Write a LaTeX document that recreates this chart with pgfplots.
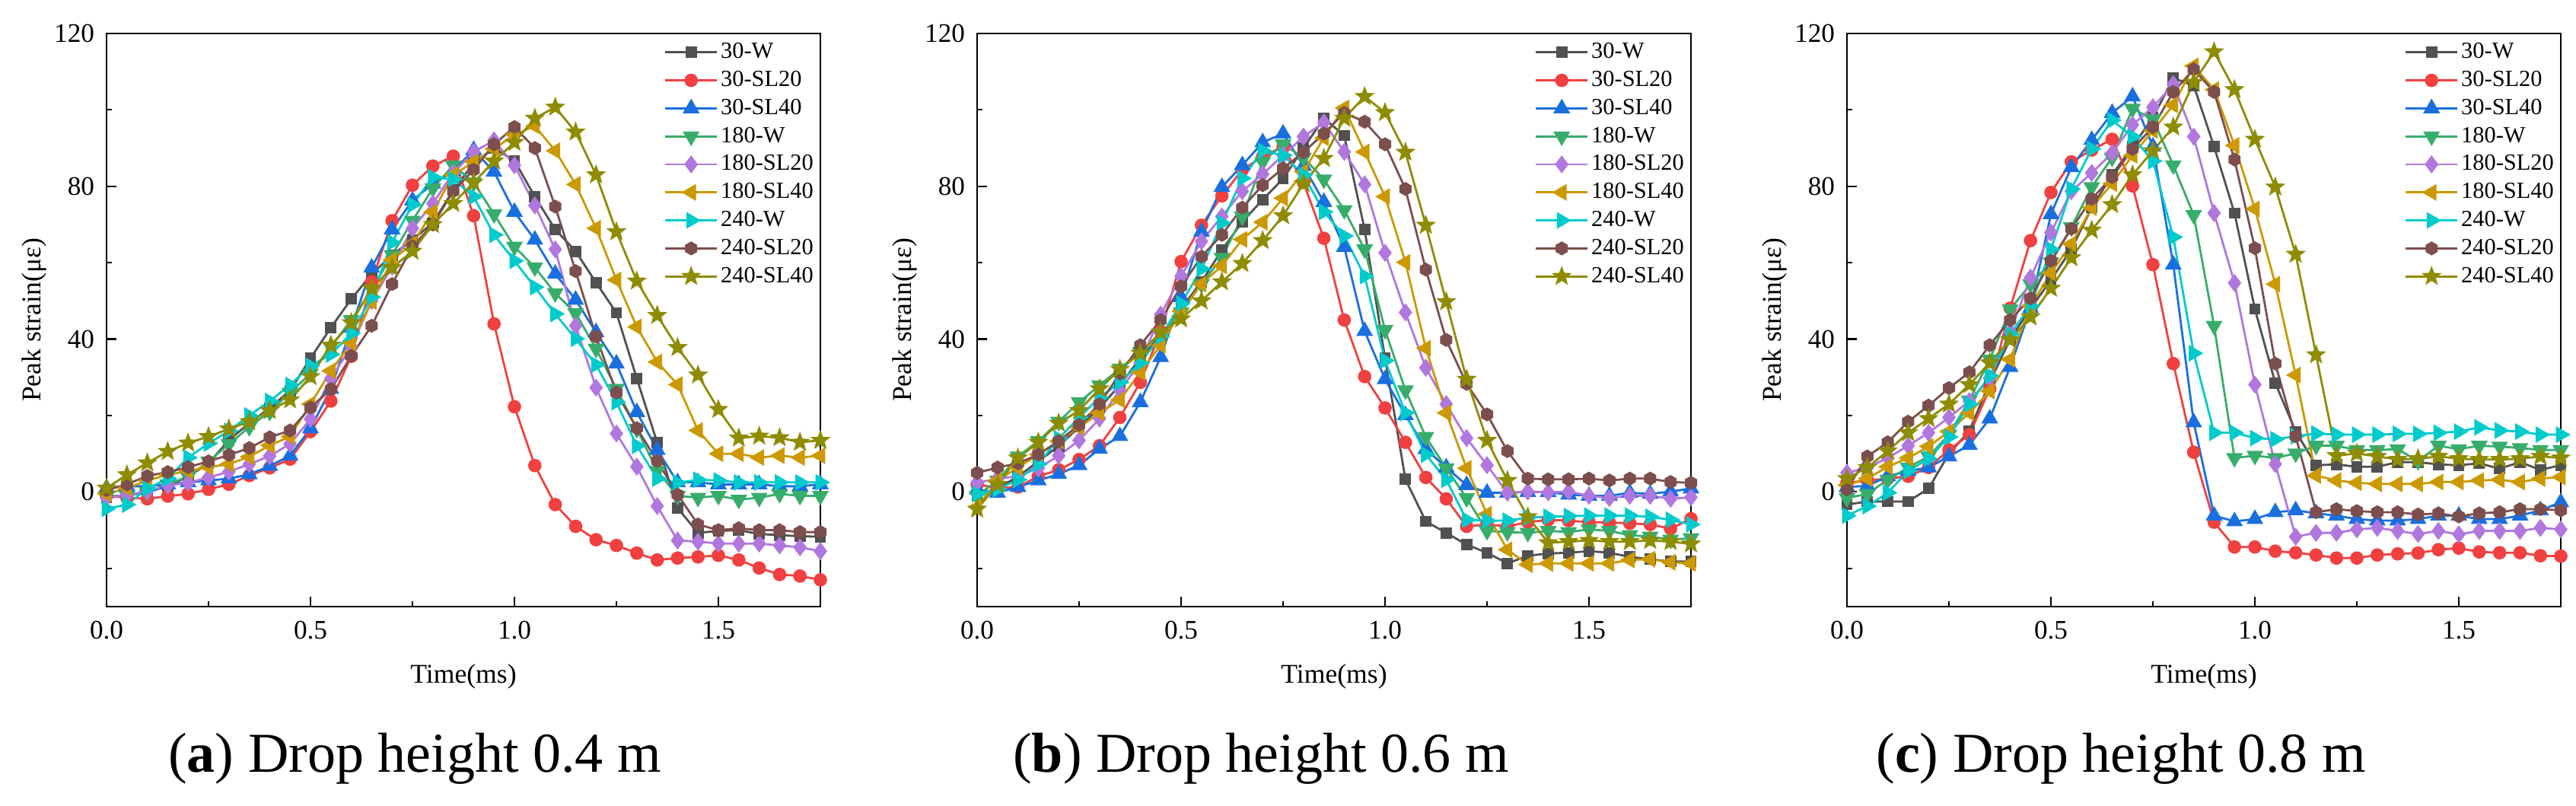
\documentclass[border=0pt]{standalone}
\usepackage{pgfplots}
\pgfplotsset{compat=1.18}
\usepackage{pgfplotstable}
\usepackage{fontspec}
\setmainfont{Liberation Serif}

\definecolor{cW}{HTML}{515151}
\definecolor{cR}{HTML}{F14040}
\definecolor{cB}{HTML}{1A6FDF}
\definecolor{cG}{HTML}{37AD6B}
\definecolor{cP}{HTML}{B177DE}
\definecolor{cO}{HTML}{CC9900}
\definecolor{cC}{HTML}{00CBCC}
\definecolor{cN}{HTML}{7D4E4E}
\definecolor{cS}{HTML}{8E8C00}

\pgfdeclareplotmark{hexagon*}{%
  \pgfpathmoveto{\pgfpointpolar{90}{\pgfplotmarksize}}%
  \pgfpathlineto{\pgfpointpolar{150}{\pgfplotmarksize}}%
  \pgfpathlineto{\pgfpointpolar{210}{\pgfplotmarksize}}%
  \pgfpathlineto{\pgfpointpolar{270}{\pgfplotmarksize}}%
  \pgfpathlineto{\pgfpointpolar{330}{\pgfplotmarksize}}%
  \pgfpathlineto{\pgfpointpolar{30}{\pgfplotmarksize}}%
  \pgfpathclose\pgfusepathqfillstroke}
\pgfdeclareplotmark{star*}{%
  \pgfpathmoveto{\pgfpointpolar{90}{\pgfplotmarksize}}%
  \pgfpathlineto{\pgfpointpolar{126}{0.42\pgfplotmarksize}}%
  \pgfpathlineto{\pgfpointpolar{162}{\pgfplotmarksize}}%
  \pgfpathlineto{\pgfpointpolar{198}{0.42\pgfplotmarksize}}%
  \pgfpathlineto{\pgfpointpolar{234}{\pgfplotmarksize}}%
  \pgfpathlineto{\pgfpointpolar{270}{0.42\pgfplotmarksize}}%
  \pgfpathlineto{\pgfpointpolar{306}{\pgfplotmarksize}}%
  \pgfpathlineto{\pgfpointpolar{342}{0.42\pgfplotmarksize}}%
  \pgfpathlineto{\pgfpointpolar{18}{\pgfplotmarksize}}%
  \pgfpathlineto{\pgfpointpolar{54}{0.42\pgfplotmarksize}}%
  \pgfpathclose\pgfusepathqfillstroke}

\pgfplotstableread{
t W R B G P O C N S
0.00 -1.5 -1 1 -1 -1.5 -0.5 -4.4 0.5 1
0.05 -1 -1.5 1.5 -1 -0.8 1 -3.3 2 4.5
0.10 0 -1.8 1.5 0 0.2 3 0.9 4.2 7.6
0.15 1.5 -1.1 2 2 1.7 4.5 3.5 5.2 10.6
0.20 4 -0.5 2.5 4 2.4 5.5 9 6.5 12.8
0.25 7.5 0.7 3 8 3.8 6.5 12.7 8 14.5
0.30 13.6 2 3.5 12.5 5.3 7.3 16 9.7 16.5
0.35 18 4.3 4.6 17 7.3 9.2 20 11.5 18.4
0.40 22 6.3 6.8 21 9.4 12.2 23.8 14.3 21.3
0.45 26.5 8.6 9.5 26 12.6 14.5 28 16.1 24.1
0.50 35 15.8 16.6 31 19.1 23 33 22.1 30.2
0.55 43 23.8 27 38 29.7 31.7 36 26.9 38.4
0.60 50.5 35.5 43 45 38 39 41.5 35.6 44.3
0.65 57 55 58.7 53 50 49.8 51 43.5 53.3
0.70 62 71 68.7 62 59 60.7 65.3 54.4 58.7
0.75 66 80.3 76.3 71 69 65 75.2 64.3 63
0.80 70.4 85.3 80.7 79.5 75.5 73.3 82.4 70 70
0.85 79 87.9 84 85.5 83.5 83 81.8 78.7 75.5
0.90 86 72.3 89.5 81 89 86.4 77.3 84.3 81
0.95 90 44 83.8 72.7 92 89.8 67.3 91 86.6
1.00 86.7 22.3 73.3 64.2 85.5 93.5 60.5 95.5 91.5
1.05 77.3 6.9 66 58.8 75 95.8 53.6 90 97.8
1.10 68.7 -3.3 57.1 52 63.5 89.3 46.6 74.7 100.7
1.15 63 -9 50.3 46.8 43.5 80.5 40.1 57.8 94.2
1.20 54.8 -12.5 41.8 37.5 27.3 69 33.3 40.7 83
1.25 46.9 -14 33.6 27 15.3 55.5 23.5 26 68.1
1.30 29.7 -16 20.9 16.5 6.6 43.2 12.1 16.7 55.2
1.35 12.9 -17.8 11 5.5 -3.7 34 3.5 8.1 46.2
1.40 -4.2 -17.3 2.5 -1 -12.7 28.1 2.4 -0.7 37.8
1.45 -10.7 -17 2.5 -1.5 -13 16.1 3.2 -8.5 30.6
1.50 -10.2 -16.6 2 -1 -13.5 10 3 -10 21.6
1.55 -10 -17.8 2 -2 -13.5 10 2.5 -9.5 14.1
1.60 -11 -19.9 2 -1.5 -13.5 9 2.5 -10 14.6
1.65 -11.3 -21.6 1.5 -0.5 -14 9.5 2.5 -10 14.2
1.70 -11.6 -22 1.5 -1 -14.5 9 2.5 -10.5 13
1.75 -11.7 -23 2 -1 -15.5 9.5 2.5 -10.5 13.5
}\tA

\pgfplotstableread{
t W R B G P O C N S
0.00 -1 2 0.7 -1 2.4 -3.9 -0.5 5 -4.5
0.05 1 1 -0.2 3 3.5 3 0.7 6.4 2
0.10 4 1.3 1.3 9.3 4.1 6.4 3.2 7.5 8.9
0.15 8 4.1 3 13.3 6.2 9.8 7.3 9.8 13
0.20 12 5.8 4.7 18.4 9.5 13.3 14 13.3 18
0.25 17 8.5 7 23.5 13.5 16.9 19.5 17.6 21.3
0.30 22 12.1 11.3 27.9 19.2 20.7 24.7 23 27
0.35 28 19.5 14.6 32.3 26.6 24.1 28.7 31 32.1
0.40 35 28.7 23.5 36.7 33.8 31.3 33.8 38.4 36.3
0.45 41 42 35.3 41.5 46.4 38.4 40.7 45 41.8
0.50 48 60.3 51 47 56.5 47.3 49.3 53.8 45.3
0.55 55 69.8 68.1 54.4 65.6 54.4 58.4 61.6 50
0.60 63.3 77.5 79.8 61.3 72.1 59.2 70.4 67.3 55
0.65 70.7 84.3 85.5 72.1 78.7 66.1 82.1 74.4 59.8
0.70 76.5 87.8 91.5 86.4 83.2 70.6 89.3 80.3 65.8
0.75 82 90.4 93.8 91 88.1 76.9 88.1 84.7 72.3
0.80 90 81 85.3 87.5 93 83.8 83 88.9 80.7
0.85 97.8 66.4 75.9 81.8 96.7 92.7 73.3 93.8 87.3
0.90 93.3 45 64.1 73.8 89 100.5 67 99.2 97.8
0.95 68.7 30.2 42.1 63.5 80.5 89 56.5 96.9 103.5
1.00 35 22 29.5 42.4 62.6 77.3 34.4 91 99.3
1.05 3.3 13 20.1 26.6 47 60.1 20.7 79.3 88.9
1.10 -7.7 3.8 11.2 14.4 32.5 37.6 9.8 58.2 69.8
1.15 -10.7 -1.8 6.4 6.2 23 20.7 3.2 39.8 49.8
1.20 -13.8 -9 1.8 -1.6 14.1 6.2 -7.3 28.3 29.5
1.25 -15.9 -8.5 -0.2 -10.2 7 -5.8 -7.5 20.3 13.5
1.30 -18.7 -9 -0.2 -10.5 -0.2 -15.1 -7.5 10.7 3
1.35 -16.7 -7.9 0 -10.7 0.1 -19 -6.7 3.5 -6.5
1.40 -16.1 -7.3 0 -10.2 -0.1 -18.7 -6.5 3.3 -13.3
1.45 -15.9 -7.5 -0.7 -10.5 0.1 -18.7 -6.3 3.3 -13
1.50 -15.5 -7.9 -1 -9.8 -1 -18.7 -6.2 3.5 -12.7
1.55 -15.9 -8 -1 -10.2 -1.6 -18.7 -6.2 3 -13
1.60 -17 -8.2 -0.2 -11.3 -1 -17.8 -6.2 3.5 -13
1.65 -17.6 -8.5 -0.5 -11.7 -1 -17.6 -6.5 3.5 -12.7
1.70 -18.2 -9.6 0.1 -12.5 -1.8 -18.4 -7.3 2.6 -13
1.75 -18.2 -7 0.9 -12.1 -1.4 -18.7 -8.5 2.4 -13.6
}\tB

\pgfplotstableread{
t W R B G P O C N S
0.00 -3.3 2.4 1.3 -1.6 5 1.8 -6.2 0.7 3.5
0.05 -2.5 3 1.6 -0.5 6.4 3.5 -3.7 9.3 6.4
0.10 -2.5 3.5 4.1 3.2 8.9 6.6 -0.2 13 10.7
0.15 -2.5 4.1 5.5 6.4 12.1 8.9 5.5 18.4 15.5
0.20 0.9 6.4 6.4 9.3 15.5 11.9 8.7 22.6 19.2
0.25 10 11 9.3 15 19.5 15.8 14.4 27.2 23
0.30 16 15 12.3 24 23.8 20.7 23 31.3 28.1
0.35 28.7 27 19.2 34.7 29.8 26.4 30.4 38.4 33.8
0.40 40 48.1 32.7 47.8 41.8 34.7 41.3 45 39.8
0.45 48 65.8 48.1 54.4 56.1 48.7 48.7 50.7 45.8
0.50 55.5 78.4 72.7 60.1 67.9 57.3 63.5 60.5 53.3
0.55 63.5 86.4 85 69.3 78.7 64.9 79.3 68.9 61.3
0.60 74.4 89.5 92.1 79.8 83.5 74.4 89.8 76.7 68.5
0.65 83 92.3 99.2 87.5 88.7 80.7 97.3 82.4 75.2
0.70 90.4 80.1 103.5 100.3 96.1 88.1 93 89.8 83
0.75 98 59.5 90.4 97.6 100.7 94.6 86.6 95.5 89.3
0.80 108.3 33.6 59.5 85.5 106.7 101.3 66.7 104.7 95.5
0.85 106.4 10.4 18.2 72.5 93 111.5 36.3 110.6 107.2
0.90 90.4 -7.9 -6.2 43.5 73 105.3 15.5 104.7 115.2
0.95 73 -14.4 -7.7 8.9 54.7 90.7 15.5 87 105.3
1.00 47.9 -14.4 -7.1 9.5 28.1 74.1 14.1 63.8 92.3
1.05 28.5 -15.5 -5.3 8.9 7.3 54.4 13.8 33.6 79.8
1.10 15.8 -15.9 -4.8 10.1 -11.7 30.6 14.6 14.6 62.2
1.15 7 -16.5 -5.6 12.1 -10.7 4.3 15.3 -5.3 35.9
1.20 7.2 -17.3 -6.2 12.1 -10.7 3 15 -4.5 9.5
1.25 6.6 -17.3 -7.1 11 -9.8 2.4 15 -5 10.1
1.30 6.6 -16.5 -7.5 11 -9.4 2.1 15 -5.3 9.3
1.35 7.8 -16.2 -7.5 11.2 -10.2 2.1 15.2 -5.3 8.5
1.40 7.8 -16 -7.1 8.1 -11 2.1 15.2 -5.9 8.7
1.45 7.2 -15.1 -6.2 12.1 -10.2 2.6 15.5 -5.6 9.3
1.50 7 -14.7 -6.2 11.2 -11.1 2.6 15.8 -6.4 8.7
1.55 7.5 -15.7 -7.1 12.1 -10.2 3 16.9 -5.6 8.5
1.60 6.1 -15.9 -7.1 11.9 -10.2 3.2 16.1 -5.3 8.5
1.65 7.8 -15.9 -6.2 11.5 -10.2 2.6 15.8 -4.5 8.7
1.70 5.8 -16.7 -4.8 11 -9.4 3.5 15 -4.5 9.3
1.75 7 -16.8 -2.7 11 -9.8 3.9 15 -4.8 8.9
}\tC

\pgfplotsset{
  sW/.style={color=cW, mark=square*, mark size=1.5pt},
  sR/.style={color=cR, mark=*, mark size=1.85pt},
  sB/.style={color=cB, mark=triangle*, mark size=2.5pt},
  sG/.style={color=cG, mark=triangle*, mark size=2.5pt, mark options={rotate=180}},
  sP/.style={color=cP, mark=diamond*, mark size=2.4pt},
  sO/.style={color=cO, mark=triangle*, mark size=2.5pt, mark options={rotate=90}},
  sC/.style={color=cC, mark=triangle*, mark size=2.5pt, mark options={rotate=-90}},
  sN/.style={color=cN, mark=hexagon*, mark size=1.9pt},
  sS/.style={color=cS, mark=star*, mark size=2.5pt},
  panel/.style={
    scale only axis, width=234.5pt, height=188.25pt,
    xmin=0, xmax=1.75, ymin=-30, ymax=120,
    xtick={0,0.5,1,1.5}, xticklabels={0.0,0.5,1.0,1.5},
    minor xtick={0.25,0.75,1.25},
    ytick={0,40,80,120}, yticklabels={0,40,80,120},
    minor ytick={-20,20,60,100},
    tick align=inside, tick pos=left,
    major tick length=3.3pt, minor tick length=1.8pt,
    tick style={black, line width=0.55pt},
    axis line style={line width=0.55pt},
    tick label style={font=\fontsize{8.8}{10}\selectfont},
    yticklabel style={anchor=east, inner sep=0pt, xshift=-3.8pt},
    xticklabel style={anchor=north, inner sep=0pt, yshift=-4.5pt},
    label style={font=\fontsize{8.9}{10}\selectfont},
    xlabel={Time(ms)}, ylabel={Peak strain(με)},
    xlabel style={at={(axis description cs:0.5,-0.134)}, anchor=base},
    ylabel style={at={(axis description cs:-0.1013,0.5)}, anchor=center},
    every axis plot/.append style={line width=0.7pt},
    legend image code/.code={\draw[mark repeat=2,mark phase=2] plot coordinates {(0pt,0pt)(8.5pt,0pt)(17pt,0pt)};},
    legend cell align=left,
    legend style={draw=none, fill=none, at={(rel axis cs:1,1)}, anchor=north east,
      xshift=-1.2pt, yshift=-1.4pt, inner sep=0pt,
      font=\fontsize{7.6}{8}\selectfont, row sep=0pt,
      nodes={inner xsep=0.9pt, inner ysep=0pt, text height=6.6pt, text depth=2.6pt}},
    legend entries={30-W,30-SL20,30-SL40,180-W,180-SL20,180-SL40,240-W,240-SL20,240-SL40},
  }
}
\newcommand\plotall[1]{%
  \addplot[sW] table[x=t,y=W]{#1};
  \addplot[sR] table[x=t,y=R]{#1};
  \addplot[sB] table[x=t,y=B]{#1};
  \addplot[sG] table[x=t,y=G]{#1};
  \addplot[sP] table[x=t,y=P]{#1};
  \addplot[sO] table[x=t,y=O]{#1};
  \addplot[sC] table[x=t,y=C]{#1};
  \addplot[sN] table[x=t,y=N]{#1};
  \addplot[sS] table[x=t,y=S]{#1};
}

\begin{document}
\begin{tikzpicture}
\useasboundingbox (0,0) rectangle (846.25pt,264.75pt);
\begin{axis}[panel, at={(35pt,65.5pt)}, anchor=south west]
\plotall{\tA}
\end{axis}
\begin{axis}[panel, at={(321pt,65.5pt)}, anchor=south west]
\plotall{\tB}
\end{axis}
\begin{axis}[panel, at={(606.75pt,65.5pt)}, anchor=south west]
\plotall{\tC}
\end{axis}
\node[anchor=base, font=\fontsize{18.5}{20}\selectfont] at (136.25pt,11pt) {(\textbf{a}) Drop height 0.4 m};
\node[anchor=base, font=\fontsize{18.5}{20}\selectfont] at (414.25pt,11pt) {(\textbf{b}) Drop height 0.6 m};
\node[anchor=base, font=\fontsize{18.5}{20}\selectfont] at (696.75pt,11pt) {(\textbf{c}) Drop height 0.8 m};
\end{tikzpicture}
\end{document}
